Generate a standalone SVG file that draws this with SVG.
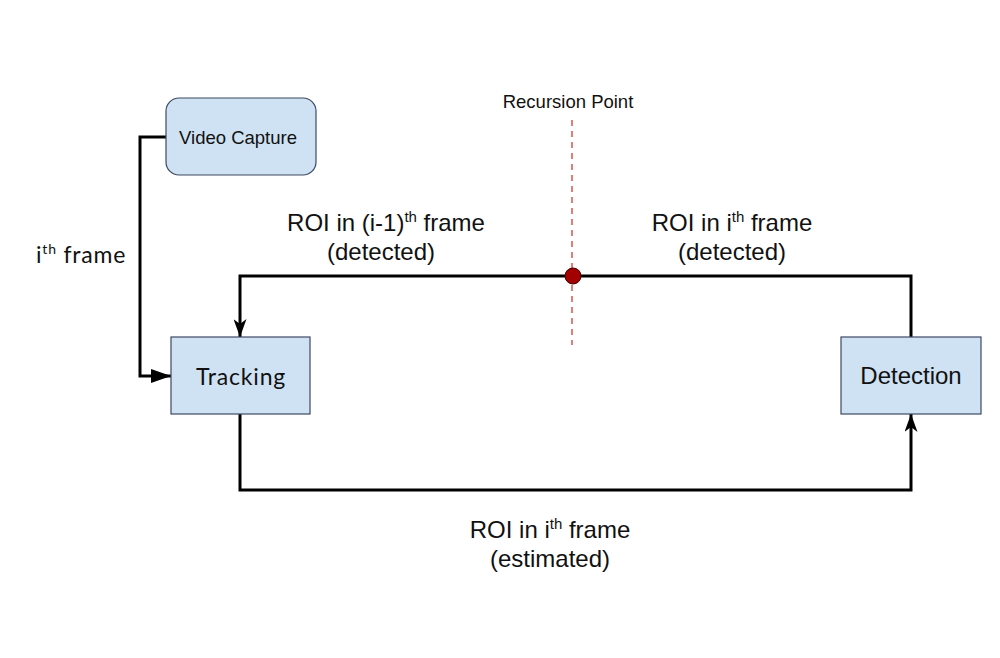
<svg xmlns="http://www.w3.org/2000/svg" width="1000" height="658" viewBox="0 0 1000 658">
<style>
.box{fill:#cfe2f3;stroke:#3d4a63;stroke-width:1.2}
.ln{fill:none;stroke:#000;stroke-width:3}
.ar{font-family:"Liberation Sans",Arial,sans-serif;fill:#111}
.geo{font-family:"Lato","Open Sans",sans-serif;fill:#111;letter-spacing:0.8px}
</style>
<defs>
<marker id="tri" markerWidth="20" markerHeight="14" refX="20" refY="7" orient="auto" markerUnits="userSpaceOnUse" viewBox="0 0 20 14">
<path d="M0,0 L20,7 L0,14 z" fill="#000"/>
</marker>
<marker id="notch" markerWidth="18" markerHeight="13" refX="18" refY="6.5" orient="auto" markerUnits="userSpaceOnUse" viewBox="0 0 18 13">
<path d="M0,0 L18,6.5 L0,13 L5,6.5 z" fill="#000"/>
</marker>
</defs>
<rect width="1000" height="658" fill="#fff"/>
<g id="connectors">
<path class="ln" d="M166,137 H140 V376 H171" marker-end="url(#tri)"/>
<path class="ln" d="M911,337 V276 H240 V337" marker-end="url(#notch)"/>
<path class="ln" d="M240,414 V490 H911 V414" marker-end="url(#notch)"/>
<line x1="572" y1="120" x2="572" y2="345" stroke="#d9534f" stroke-width="1.5" stroke-dasharray="6,5"/>
<circle cx="573" cy="276" r="8" fill="#a30000" stroke="#4a0000" stroke-width="1"/>
</g>
<g id="video-capture">
<rect class="box" x="166" y="98" width="150" height="77" rx="13"/>
<text class="ar" x="238" y="144" font-size="18.5" text-anchor="middle">Video Capture</text>
</g>
<g id="tracking">
<rect class="box" x="171" y="337" width="139" height="77"/>
<text class="geo" x="241" y="385" font-size="23" text-anchor="middle">Tracking</text>
</g>
<g id="detection">
<rect class="box" x="841" y="337" width="140" height="77"/>
<text class="ar" x="911" y="384" font-size="24" text-anchor="middle">Detection</text>
</g>
<g id="labels">
<text class="ar" x="568" y="108" font-size="18.5" text-anchor="middle">Recursion Point</text>
<text class="geo" x="36" y="263" font-size="23">i<tspan font-size="14" dy="-9">th</tspan><tspan dy="9"> frame</tspan></text>
<text class="ar" x="386" y="231" font-size="24" text-anchor="middle">ROI in (i-1)<tspan font-size="15" dy="-9">th</tspan><tspan dy="9"> frame</tspan></text>
<text class="ar" x="381" y="260" font-size="24" text-anchor="middle">(detected)</text>
<text class="ar" x="732" y="231" font-size="24" text-anchor="middle">ROI in i<tspan font-size="15" dy="-9">th</tspan><tspan dy="9"> frame</tspan></text>
<text class="ar" x="732" y="260" font-size="24" text-anchor="middle">(detected)</text>
<text class="ar" x="550" y="538" font-size="24" text-anchor="middle">ROI in i<tspan font-size="15" dy="-9">th</tspan><tspan dy="9"> frame</tspan></text>
<text class="ar" x="550" y="567" font-size="24" text-anchor="middle">(estimated)</text>
</g>
</svg>
